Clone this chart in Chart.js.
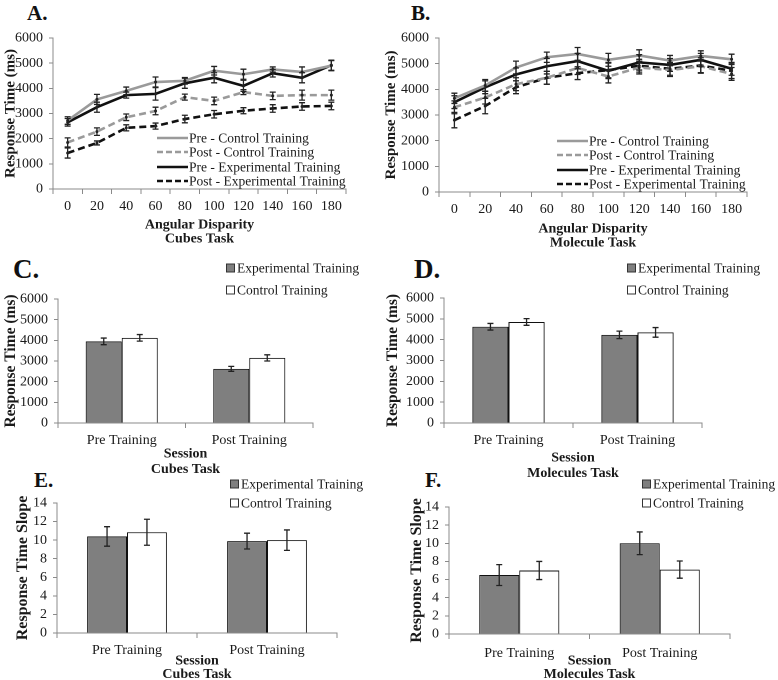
<!DOCTYPE html>
<html>
<head>
<meta charset="utf-8">
<script src="https://cdn.jsdelivr.net/npm/chart.js@4.4.1/dist/chart.umd.min.js"></script>
<style>
    body { margin: 0; background: #fff; }
    #page { position: relative; width: 778px; height: 680px; overflow: hidden; background: #fff; }
    canvas { position: absolute; }
    .panel-letter { position: absolute; font-family: 'Liberation Serif', serif; font-weight: bold; color: #111; line-height: 1; }
</style>
</head>
<body>
<div id="page">
    <div class="panel-letter" style="left:27px;top:3px;font-size:21px;">A.</div>
    <div class="panel-letter" style="left:411px;top:3px;font-size:21px;">B.</div>
    <div class="panel-letter" style="left:13px;top:256px;font-size:27px;">C.</div>
    <div class="panel-letter" style="left:414px;top:256px;font-size:27px;">D.</div>
    <div class="panel-letter" style="left:34px;top:470px;font-size:21px;">E.</div>
    <div class="panel-letter" style="left:425px;top:470px;font-size:21px;">F.</div>
    <canvas id="chart-a"></canvas>
    <canvas id="chart-b"></canvas>
    <canvas id="chart-c"></canvas>
    <canvas id="chart-d"></canvas>
    <canvas id="chart-e"></canvas>
    <canvas id="chart-f"></canvas>
</div>
<script>
// Data
const angles = ['0', '20', '40', '60', '80', '100', '120', '140', '160', '180'];
const seriesNames = ['Pre - Control Training', 'Post - Control Training', 'Pre - Experimental Training', 'Post - Experimental Training'];

// Cubes task, response time by angle
const cubesPreControl = [2720, 3560, 3900, 4250, 4300, 4700, 4560, 4750, 4650, 4900];
const cubesPreControlErr = [150, 200, 150, 200, 130, 170, 200, 100, 200, 200];
const cubesPostControl = [1850, 2280, 2850, 3100, 3650, 3500, 3850, 3700, 3730, 3730];
const cubesPostControlErr = [180, 150, 130, 150, 120, 150, 100, 150, 200, 200];
const cubesPreExp = [2650, 3250, 3730, 3780, 4200, 4420, 4100, 4600, 4420, 4920];
const cubesPreExpErr = [150, 200, 120, 250, 200, 200, 220, 150, 200, 200];
const cubesPostExp = [1430, 1830, 2430, 2500, 2780, 2970, 3110, 3200, 3280, 3300];
const cubesPostExpErr = [200, 80, 120, 120, 150, 150, 120, 150, 150, 150];

// Molecule task, response time by angle
const molPreControl = [3650, 4150, 4850, 5250, 5380, 5150, 5320, 5120, 5300, 5170];
const molPreControlErr = [200, 230, 250, 200, 250, 250, 220, 200, 200, 200];
const molPostControl = [3300, 3680, 4200, 4450, 4830, 4500, 4850, 4750, 4900, 4600];
const molPostControlErr = [250, 250, 250, 250, 250, 250, 250, 250, 250, 250];
const molPreExp = [3500, 4080, 4580, 4900, 5100, 4720, 5050, 4950, 5150, 4800];
const molPreExpErr = [250, 250, 250, 300, 300, 300, 300, 250, 250, 250];
const molPostExp = [2800, 3350, 4080, 4450, 4630, 4750, 4920, 4800, 4930, 4720];
const molPostExpErr = [300, 300, 250, 250, 250, 300, 250, 250, 300, 300];

// Session bars
const sessions = ['Pre Training', 'Post Training'];
const groupNames = ['Experimental Training', 'Control Training'];
const cubesRtExp = [3950, 2620];
const cubesRtExpErr = [160, 120];
const cubesRtControl = [4120, 3150];
const cubesRtControlErr = [160, 150];
const molRtExp = [4620, 4230];
const molRtExpErr = [160, 180];
const molRtControl = [4850, 4350];
const molRtControlErr = [160, 230];
const cubesSlopeExp = [10.4, 9.9];
const cubesSlopeExpErr = [1.05, 0.85];
const cubesSlopeControl = [10.85, 10.0];
const cubesSlopeControlErr = [1.4, 1.1];
const molSlopeExp = [6.5, 10.0];
const molSlopeExpErr = [1.15, 1.25];
const molSlopeControl = [7.0, 7.1];
const molSlopeControlErr = [1.0, 0.95];

const FONT = "'Liberation Serif', 'Times New Roman', serif";
const TEXT = '#1a1a1a';
const AXIS = '#8a8a8a';
const GRAY_LINE = '#9a9a9a';
const GRAY_BAR = '#7f7f7f';

// Error bars drawn from each dataset's errors array
const errorBarPlugin = {
    id: 'errorBars',
    afterDatasetsDraw(chart) {
        const ctx = chart.ctx;
        const y = chart.scales.y;
        ctx.save();
        ctx.strokeStyle = '#222';
        ctx.lineWidth = 1.3;
        ctx.setLineDash([]);
        chart.data.datasets.forEach((ds, i) => {
            if (!ds.errors) return;
            const meta = chart.getDatasetMeta(i);
            meta.data.forEach((el, j) => {
                const v = ds.data[j];
                const e = ds.errors[j];
                const yTop = y.getPixelForValue(v + e);
                const yBot = y.getPixelForValue(v - e);
                ctx.beginPath();
                ctx.moveTo(el.x, yTop); ctx.lineTo(el.x, yBot);
                ctx.moveTo(el.x - 3, yTop); ctx.lineTo(el.x + 3, yTop);
                ctx.moveTo(el.x - 3, yBot); ctx.lineTo(el.x + 3, yBot);
                ctx.stroke();
            });
        });
        ctx.restore();
    }
};

// Legend drawn at a given spot (page coordinates)
const boxLegendPlugin = {
    id: 'boxLegend',
    afterDraw(chart, args, opts) {
        if (!opts.items) return;
        const ctx = chart.ctx;
        ctx.save();
        ctx.font = '13.5px ' + FONT;
        ctx.textBaseline = 'middle';
        ctx.fillStyle = TEXT;
        opts.items.forEach((item, k) => {
            const x = opts.x - opts.left;
            const yy = opts.rows[k] - opts.top;
            if (item.kind === 'line') {
                ctx.strokeStyle = item.color;
                ctx.lineWidth = 2.5;
                ctx.setLineDash(item.dash || []);
                ctx.beginPath();
                ctx.moveTo(x, yy); ctx.lineTo(x + 31, yy);
                ctx.stroke();
                ctx.setLineDash([]);
                ctx.fillStyle = TEXT;
                ctx.fillText(item.text, x + 32, yy + 1);
            } else {
                ctx.fillStyle = item.color;
                ctx.fillRect(x, yy - 4.5, 9, 9);
                ctx.strokeStyle = '#333';
                ctx.lineWidth = 1;
                ctx.strokeRect(x + 0.5, yy - 4, 8, 8);
                ctx.fillStyle = TEXT;
                ctx.fillText(item.text, x + 11, yy + 1);
            }
        });
        ctx.restore();
    }
};

// Places a canvas on the page and fits the chart area to the given box
function makePanel(id, p) {
    const canvas = document.getElementById(id);
    canvas.style.left = p.cx + 'px';
    canvas.style.top = p.cy + 'px';
    canvas.style.width = p.cw + 'px';
    canvas.style.height = p.ch + 'px';
    const yTitleLh = p.yTitleSize * 1.15;
    const padLeft = Math.max(0, p.yTitleX - p.cx - 2 - yTitleLh / 2);
    const yWidth = p.area.l - p.cx - padLeft;
    const xHeight = p.cy + p.ch - p.area.b;

    return new Chart(canvas, {
        type: p.type,
        data: p.data,
        plugins: [errorBarPlugin, boxLegendPlugin],
        options: {
            responsive: false,
            animation: false,
            devicePixelRatio: 2,
            layout: { padding: { left: padLeft, top: p.area.t - p.cy, right: p.cx + p.cw - p.area.r, bottom: 0 } },
            datasets: {
                bar: { categoryPercentage: p.catPct, barPercentage: 1.0 }
            },
            plugins: {
                legend: { display: false },
                tooltip: { enabled: false },
                boxLegend: Object.assign({ left: p.cx, top: p.cy }, p.legend)
            },
            scales: {
                x: {
                    offset: true,
                    grid: { offset: true, drawOnChartArea: false, drawTicks: true, tickLength: 5, color: AXIS },
                    border: { display: true, color: AXIS, width: 1 },
                    ticks: { color: TEXT, font: { family: FONT, size: 14 }, padding: p.xTickPad, maxRotation: 0, autoSkip: false },
                    title: {
                        display: true, text: p.xTitle, color: TEXT,
                        font: { family: FONT, size: 14, weight: 'bold', lineHeight: p.xTitleLh },
                        padding: { top: 0, bottom: 0 }
                    },
                    afterFit: s => { s.height = xHeight; }
                },
                y: {
                    min: 0, max: p.yMax,
                    ticks: {
                        stepSize: p.yStep, autoSkip: false, color: TEXT,
                        font: { family: FONT, size: 14 }, padding: 6,
                        callback: v => String(v)
                    },
                    grid: { drawOnChartArea: false, drawTicks: true, tickLength: 4, color: AXIS },
                    border: { display: true, color: AXIS, width: 1 },
                    title: {
                        display: true, text: p.yTitle, color: TEXT,
                        font: { family: FONT, size: p.yTitleSize, weight: 'bold', lineHeight: 1.15 },
                        padding: { top: 2, bottom: 0 }
                    },
                    afterFit: s => { s.width = yWidth; }
                }
            }
        }
    });
}

function lineData(pc, pcE, poc, pocE, pe, peE, poe, poeE) {
    const mk = (label, data, errors, color, dash) => ({
        label, data, errors,
        borderColor: color, backgroundColor: color,
        borderWidth: 2.6, borderDash: dash,
        pointRadius: 1.5, pointBackgroundColor: '#222', pointBorderWidth: 0,
        tension: 0, fill: false
    });
    return {
        labels: angles,
        datasets: [
            mk(seriesNames[0], pc, pcE, GRAY_LINE, []),
            mk(seriesNames[1], poc, pocE, GRAY_LINE, [7, 4]),
            mk(seriesNames[2], pe, peE, '#111', []),
            mk(seriesNames[3], poe, poeE, '#111', [7, 4])
        ]
    };
}

function barData(exp, expE, ctl, ctlE) {
    return {
        labels: sessions,
        datasets: [
            { label: groupNames[0], data: exp, errors: expE, backgroundColor: GRAY_BAR, borderColor: '#111', borderWidth: 1 },
            { label: groupNames[1], data: ctl, errors: ctlE, backgroundColor: '#fff', borderColor: '#111', borderWidth: 1 }
        ]
    };
}

const lineLegendItems = [
    { kind: 'line', text: seriesNames[0], color: GRAY_LINE },
    { kind: 'line', text: seriesNames[1], color: GRAY_LINE, dash: [6, 3] },
    { kind: 'line', text: seriesNames[2], color: '#111' },
    { kind: 'line', text: seriesNames[3], color: '#111', dash: [6, 3] }
];
const barLegendItems = [
    { kind: 'box', text: groupNames[0], color: GRAY_BAR },
    { kind: 'box', text: groupNames[1], color: '#fff' }
];

makePanel('chart-a', {
    type: 'line', cx: 0, cy: 20, cw: 390, ch: 226,
    area: { l: 53, t: 38, r: 346, b: 189 },
    yMax: 6000, yStep: 1000, yTitle: 'Response Time (ms)', yTitleSize: 15, yTitleX: 10,
    xTitle: ['Angular Disparity', 'Cubes Task'], xTitleLh: 1.0, xTickPad: 4,
    data: lineData(cubesPreControl, cubesPreControlErr, cubesPostControl, cubesPostControlErr,
                   cubesPreExp, cubesPreExpErr, cubesPostExp, cubesPostExpErr),
    legend: { x: 157, rows: [138, 152, 167, 181], items: lineLegendItems }
});

makePanel('chart-b', {
    type: 'line', cx: 378, cy: 20, cw: 400, ch: 230,
    area: { l: 439, t: 38, r: 747, b: 192 },
    yMax: 6000, yStep: 1000, yTitle: 'Response Time (ms)', yTitleSize: 15, yTitleX: 391,
    xTitle: ['Angular Disparity', 'Molecule Task'], xTitleLh: 1.0, xTickPad: 4,
    data: lineData(molPreControl, molPreControlErr, molPostControl, molPostControlErr,
                   molPreExp, molPreExpErr, molPostExp, molPostExpErr),
    legend: { x: 557, rows: [141, 155, 170, 184], items: lineLegendItems }
});

makePanel('chart-c', {
    type: 'bar', cx: 0, cy: 250, cw: 390, ch: 227,
    area: { l: 58, t: 299, r: 313, b: 423 },
    yMax: 6000, yStep: 1000, yTitle: 'Response Time (ms)', yTitleSize: 15.5, yTitleX: 10,
    xTitle: ['Session', 'Cubes Task'], xTitleLh: 1.1, xTickPad: 4, catPct: 0.565,
    data: barData(cubesRtExp, cubesRtExpErr, cubesRtControl, cubesRtControlErr),
    legend: { x: 226, rows: [268, 290], items: barLegendItems }
});

makePanel('chart-d', {
    type: 'bar', cx: 378, cy: 250, cw: 400, ch: 231,
    area: { l: 444, t: 298, r: 702, b: 423 },
    yMax: 6000, yStep: 1000, yTitle: 'Response Time (ms)', yTitleSize: 15.5, yTitleX: 393,
    xTitle: ['Session', 'Molecules Task'], xTitleLh: 1.1, xTickPad: 4, catPct: 0.56,
    data: barData(molRtExp, molRtExpErr, molRtControl, molRtControlErr),
    legend: { x: 627, rows: [268, 290], items: barLegendItems }
});

makePanel('chart-e', {
    type: 'bar', cx: 0, cy: 470, cw: 390, ch: 211,
    area: { l: 57, t: 503, r: 337, b: 633 },
    yMax: 14, yStep: 2, yTitle: 'Response Time Slope', yTitleSize: 16, yTitleX: 23,
    xTitle: ['Session', 'Cubes Task'], xTitleLh: 0.95, xTickPad: 4, catPct: 0.57,
    data: barData(cubesSlopeExp, cubesSlopeExpErr, cubesSlopeControl, cubesSlopeControlErr),
    legend: { x: 230, rows: [484, 503], items: barLegendItems }
});

makePanel('chart-f', {
    type: 'bar', cx: 390, cy: 470, cw: 388, ch: 211,
    area: { l: 449, t: 507, r: 730, b: 634 },
    yMax: 14, yStep: 2, yTitle: 'Response Time Slope', yTitleSize: 16, yTitleX: 417,
    xTitle: ['Session', 'Molecules Task'], xTitleLh: 0.95, xTickPad: 6, catPct: 0.57,
    data: barData(molSlopeExp, molSlopeExpErr, molSlopeControl, molSlopeControlErr),
    legend: { x: 642, rows: [484, 503], items: barLegendItems }
});
</script>
</body>
</html>
